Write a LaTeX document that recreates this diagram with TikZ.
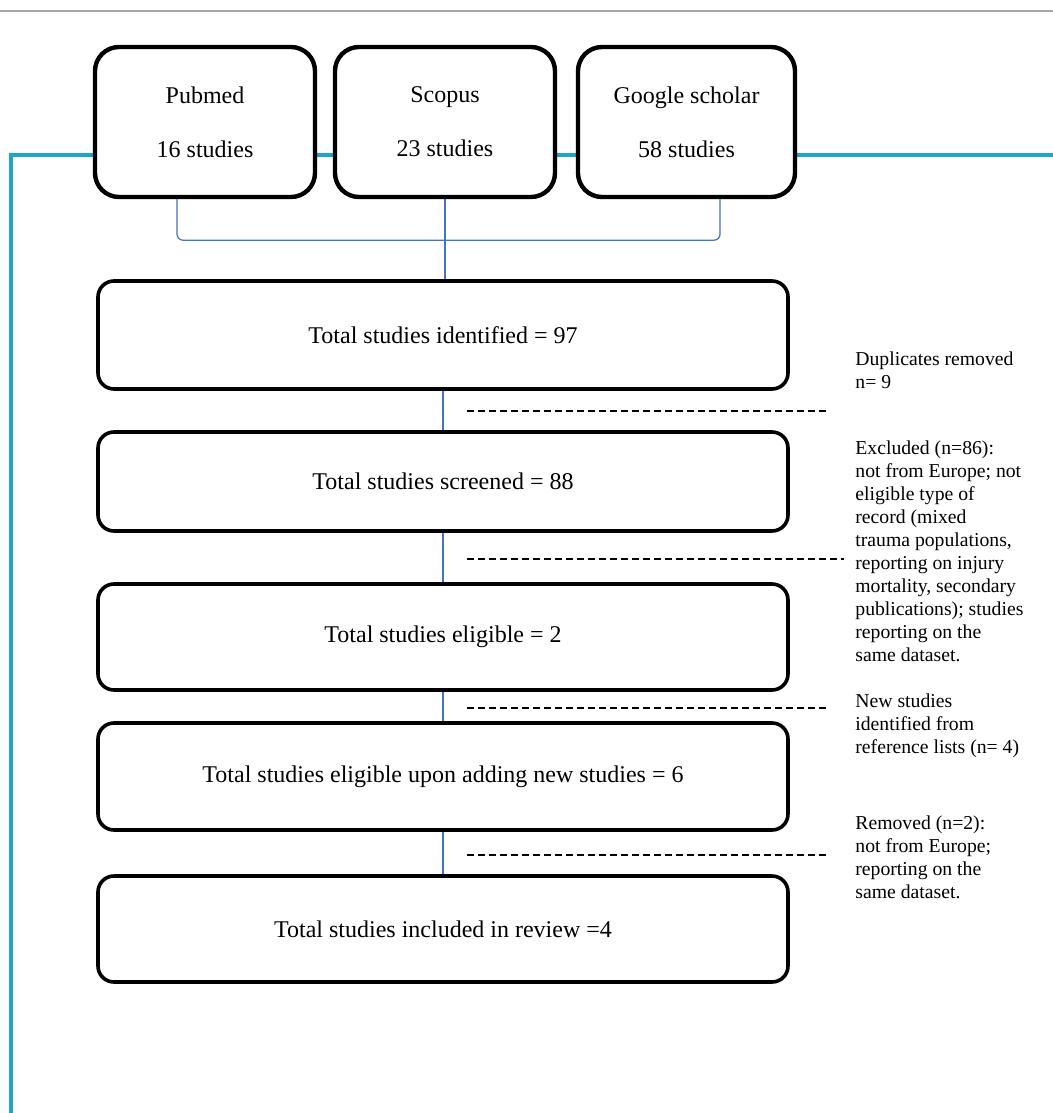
\documentclass[tikz,border=0pt]{standalone}
\usepackage{fontspec}
\setmainfont{Liberation Serif}
\usetikzlibrary{positioning, calc, backgrounds}
\definecolor{frameteal}{HTML}{1FA5C6}
\definecolor{linkblue}{HTML}{4472C4}
\definecolor{rulegray}{HTML}{A6A6A6}

\begin{document}
\begin{tikzpicture}[
    x=0.5pt, y=-0.5pt,
    source/.style={rectangle, rounded corners=12pt, draw=black, line width=2.2pt, fill=white, minimum width=110pt, minimum height=75pt, font=\fontsize{12}{27}\selectfont, align=center, inner sep=0pt},
    stage/.style={rectangle, rounded corners=8pt, draw=black, line width=1.8pt, fill=white, minimum width=345pt, minimum height=#1, font=\fontsize{12}{14.4}\selectfont, inner sep=0pt},
    link/.style={draw=linkblue, line width=0.6pt},
    cut/.style={draw=black, line width=0.85pt, dash pattern=on 3.3pt off 2.2pt},
    note/.style={anchor=north west, align=left, inner sep=0pt, font=\fontsize{9.85}{11.5}\selectfont}
]
\useasboundingbox (0,0) rectangle (1053,1113);

% page rule and frame
\draw[rulegray, line width=0.6pt] (0,11) -- (1053,11);
\draw[frameteal, line width=2pt] (1053,155) -- (11,155) -- (11,1113);

% databases
\node[source] (pubmed) at (205,122) {Pubmed\\16 studies};
\node[source] (scopus) at (445,122) {Scopus\\23 studies};
\node[source, minimum width=108.5pt] (scholar) at (686.5,122) {Google scholar\\58 studies};

% stages
\node[stage=54pt] (identified) at (443,335) {Total studies identified = 97};
\node[stage=49.5pt] (screened) at (443,481.5) {Total studies screened = 88};
\node[stage=53pt] (eligible) at (443,637) {Total studies eligible = 2};
\node[stage=53.5pt] (added) at (443,776.5) {Total studies eligible upon adding new studies = 6};
\node[stage=53pt] (included) at (443,929) {Total studies included in review =4};

\begin{scope}[on background layer]
\draw[link, rounded corners=3pt] ($(pubmed.south)+(-28,0)$) -- ++(0,41) -| ($(scholar.south)+(33.5,0)$);
\draw[link] (scopus.south) -- (scopus.south |- identified.north);
\foreach \a/\b in {identified/screened, screened/eligible, eligible/added, added/included}
  \draw[link] (\a.south) -- (\b.north);
\end{scope}

% exclusions
\foreach \n/\y/\e in {1/411/828, 2/559/844, 3/708/828, 4/855/828} {
  \coordinate (cut\n a) at (467,\y);
  \coordinate (cut\n b) at (\e,\y);
  \draw[cut] (cut\n a) -- (cut\n b);
}

\node[note] (duplicates) at (855,351) {Duplicates removed\\n= 9};
\node[note] (excluded) at (855,440) {Excluded (n=86):\\not from Europe; not\\eligible type of\\record (mixed\\trauma populations,\\reporting on injury\\mortality, secondary\\publications); studies\\reporting on the\\same dataset.};
\node[note] (newstudies) at (855,693) {New studies\\identified from\\reference lists (n= 4)};
\node[note] (removed) at (855,815) {Removed (n=2):\\not from Europe;\\reporting on the\\same dataset.};

\end{tikzpicture}
\end{document}
